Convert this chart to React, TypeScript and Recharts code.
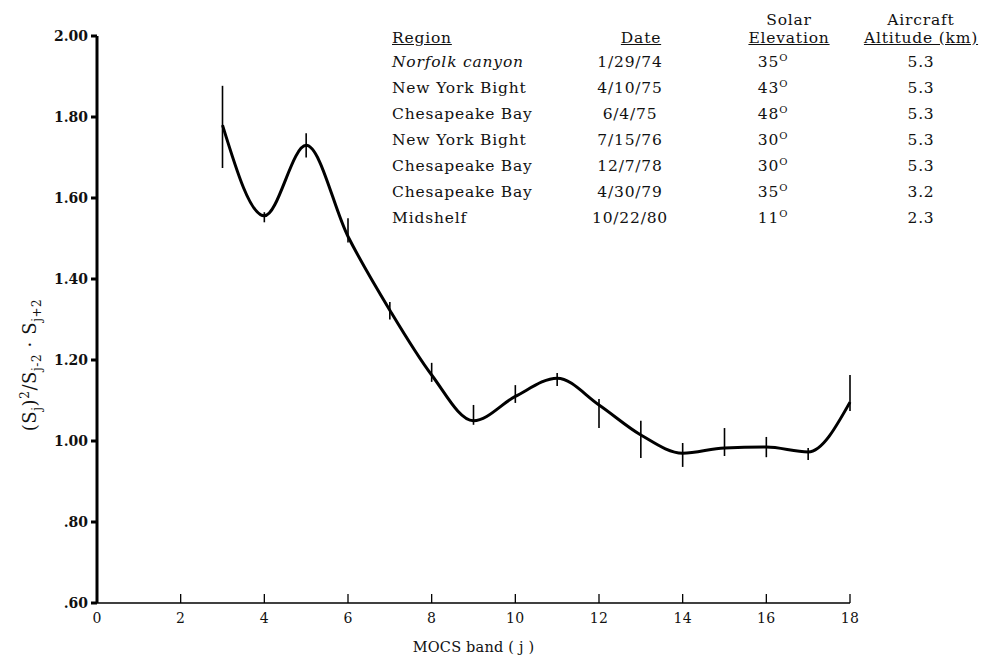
import { LineChart, Line, XAxis, YAxis, ErrorBar } from 'recharts';

// MOCS band index j and the measured ratio (S_j)^2 / (S_j-2 * S_j+2)
const bands = [3, 4, 5, 6, 7, 8, 9, 10, 11, 12, 13, 14, 15, 16, 17, 18];
const ratio = [1.78, 1.556, 1.73, 1.505, 1.323, 1.163, 1.05, 1.11, 1.155, 1.089, 1.015, 0.97, 0.983, 0.985, 0.973, 1.096];
const barLow = [1.674, 1.54, 1.7, 1.49, 1.3, 1.146, 1.04, 1.094, 1.136, 1.032, 0.958, 0.936, 0.963, 0.96, 0.953, 1.074];
const barHigh = [1.877, 1.565, 1.76, 1.55, 1.343, 1.193, 1.089, 1.138, 1.168, 1.104, 1.05, 0.995, 1.032, 1.01, 0.983, 1.163];

const xTicks = [0, 2, 4, 6, 8, 10, 12, 14, 16, 18];
const yTicks = [0.6, 0.8, 1.0, 1.2, 1.4, 1.6, 1.8, 2.0];

// flight table shown in the upper right
const regions = ['Norfolk canyon', 'New York Bight', 'Chesapeake Bay', 'New York Bight', 'Chesapeake Bay', 'Chesapeake Bay', 'Midshelf'];
const dates = ['1/29/74', '4/10/75', '6/4/75', '7/15/76', '12/7/78', '4/30/79', '10/22/80'];
const solarElev = ['35', '43', '48', '30', '30', '35', '11'];
const altitudes = ['5.3', '5.3', '5.3', '5.3', '5.3', '3.2', '2.3'];

const data = bands.map((j, i) => ({
  j,
  ratio: ratio[i],
  err: [ratio[i] - barLow[i], barHigh[i] - ratio[i]],
}));

const SERIF = '"DejaVu Serif", "Liberation Serif", serif';

const fmtY = (v: number) => (v < 1 ? v.toFixed(2).replace(/^0/, '') : v.toFixed(2));

function BandTick({ x, y, payload }: any) {
  return (
    <g>
      {payload.value !== 0 && <line x1={x} x2={x} y1={y} y2={y - 9} stroke="#000" strokeWidth={1.3} />}
      <text x={x} y={y + 20} textAnchor="middle" fontFamily={SERIF} fontSize={14} fill="#111" letterSpacing={0.3}>
        {payload.value}
      </text>
    </g>
  );
}

const cell = (left: number, top: number, align: 'left' | 'center', w = 0): React.CSSProperties => ({
  position: 'absolute',
  left: align === 'center' ? left - w / 2 : left,
  top,
  width: align === 'center' ? w : undefined,
  textAlign: align,
  whiteSpace: 'nowrap',
  lineHeight: '18px',
});

const supStyle: React.CSSProperties = { fontSize: 10, lineHeight: 0, verticalAlign: 'super' };
const subStyle: React.CSSProperties = { fontSize: 12, lineHeight: 0, verticalAlign: 'sub' };

export default function App() {
  const rowTop = (i: number) => 53 + i * 26;
  return (
    <div
      style={{
        position: 'relative',
        width: 982,
        height: 656,
        background: '#fff',
        fontFamily: SERIF,
        fontSize: 15.5,
        letterSpacing: 0.8,
        color: '#111',
      }}
    >
      <style>{'body{margin:0}'}</style>
      <LineChart width={982} height={656} data={data} margin={{ top: 36, right: 132, left: 0, bottom: 0 }}>
        <XAxis
          dataKey="j"
          type="number"
          domain={[0, 18]}
          ticks={xTicks}
          tickLine={false}
          tickSize={0}
          tickMargin={0}
          tick={<BandTick />}
          height={53}
          stroke="#000"
          strokeWidth={1.5}
          label={{
            value: 'MOCS band ( j )',
            position: 'insideBottom',
            offset: 4,
            fontFamily: SERIF,
            fontSize: 14.5,
            letterSpacing: 0.2,
            fill: '#111',
          }}
        />
        <YAxis
          type="number"
          domain={[0.6, 2.0]}
          ticks={yTicks}
          tickFormatter={fmtY}
          width={97}
          stroke="#000"
          strokeWidth={3}
          tickSize={6}
          tickMargin={3}
          tick={{ fontFamily: SERIF, fontSize: 14, fontWeight: 'bold', fill: '#111', letterSpacing: 0 }}
        />
        <Line
          dataKey="ratio"
          type="monotone"
          stroke="#000"
          strokeWidth={3}
          dot={false}
          isAnimationActive={false}
        >
          <ErrorBar dataKey="err" direction="y" width={0} stroke="#000" strokeWidth={1.6} />
        </Line>
      </LineChart>

      {/* rotated y-axis title */}
      <div
        style={{
          position: 'absolute',
          left: 30,
          top: 365,
          transform: 'translate(-50%, -50%) rotate(-90deg)',
          whiteSpace: 'nowrap',
          fontSize: 18,
          letterSpacing: 0.6,
          lineHeight: '20px',
        }}
      >
        (S<sub style={subStyle}>j</sub>)<sup style={{ ...supStyle, fontSize: 12 }}>2</sup>/S<sub style={subStyle}>j-2</sub> · S
        <sub style={subStyle}>j+2</sub>
      </div>

      {/* table headers */}
      <div style={{ ...cell(392, 29, 'left'), textDecoration: 'underline' }}>Region</div>
      <div style={{ ...cell(641, 29, 'center', 80), textDecoration: 'underline' }}>Date</div>
      <div style={cell(789, 11, 'center', 120)}>Solar</div>
      <div style={{ ...cell(789, 29, 'center', 120), textDecoration: 'underline' }}>Elevation</div>
      <div style={cell(921, 11, 'center', 140)}>Aircraft</div>
      <div style={{ ...cell(921, 29, 'center', 140), textDecoration: 'underline' }}>Altitude (km)</div>

      {regions.map((r, i) => (
        <div key={`r${i}`} style={{ ...cell(392, rowTop(i), 'left'), fontStyle: i === 0 ? 'italic' : 'normal' }}>
          {r}
        </div>
      ))}
      {dates.map((d, i) => (
        <div key={`d${i}`} style={cell(630, rowTop(i), 'center', 100)}>
          {d}
        </div>
      ))}
      {solarElev.map((s, i) => (
        <div key={`s${i}`} style={cell(773, rowTop(i), 'center', 60)}>
          {s}
          <sup style={supStyle}>O</sup>
        </div>
      ))}
      {altitudes.map((a, i) => (
        <div key={`a${i}`} style={cell(921, rowTop(i), 'center', 60)}>
          {a}
        </div>
      ))}
    </div>
  );
}
